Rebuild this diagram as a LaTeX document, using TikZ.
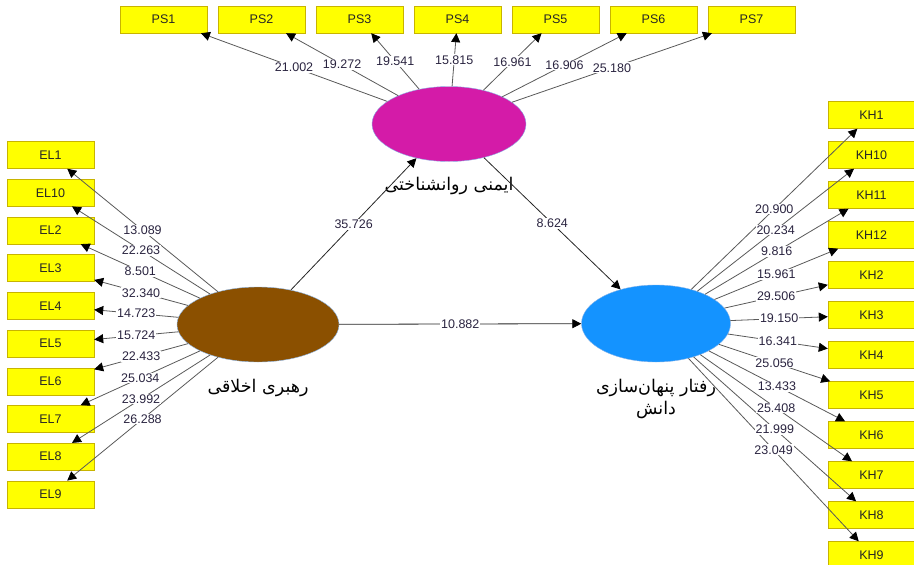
\documentclass[tikz,border=0pt]{standalone}
\usepackage{fontspec}
\setmainfont{Liberation Sans}
\newfontfamily\fafont[Script=Arabic]{DejaVu Sans}
\TeXXeTstate=1
\usepackage{xcolor}
\usetikzlibrary{arrows.meta, positioning, calc, shapes.geometric}
\definecolor{indfill}{HTML}{FFFF00}
\definecolor{indrim}{HTML}{C8B400}
\definecolor{safefill}{HTML}{D41BA8}
\definecolor{ethicfill}{HTML}{8B5000}
\definecolor{hidefill}{HTML}{1493FF}
\definecolor{lvrim}{HTML}{8AB4E8}
\definecolor{tvtext}{HTML}{2A2440}

\def\pslist{1/21.002, 2/19.272, 3/19.541, 4/15.815, 5/16.961, 6/16.906, 7/25.180}
\def\ellist{1/13.089, 10/22.263, 2/8.501, 3/32.340, 4/14.723, 5/15.724, 6/22.433, 7/25.034, 8/23.992, 9/26.288}
\def\khlist{1/20.900, 10/20.234, 11/9.816, 12/15.961, 2/29.506, 3/19.150, 4/16.341, 5/25.056, 6/13.433, 7/25.408, 8/21.999, 9/23.049}

\begin{document}
\begin{tikzpicture}[x=1pt, y=-1pt,
    box/.style={rectangle, draw=indrim, fill=indfill, text=black!85, minimum width=87pt,
        minimum height=27pt, inner sep=0pt, font=\fontsize{12.5}{14}\selectfont},
    lv/.style={ellipse, draw=lvrim, inner sep=0pt},
    load/.style={draw=black!65, line width=0.8pt, -{Triangle[length=9pt,width=9pt,color=black]}},
    inner/.style={draw=black!85, line width=0.8pt, -{Triangle[length=9pt,width=9pt,color=black]}},
    tv/.style={fill=white, inner sep=1pt, text=tvtext, font=\fontsize{12.5}{14}\selectfont},
    lvname/.style={font=\fafont\fontsize{17.5}{22}\selectfont, align=center, inner sep=0pt}]
    \useasboundingbox (0,0) rectangle (914,565);

    % latent variables
    \node[lv, fill=safefill, minimum width=154pt, minimum height=75pt] (safety) at (449,124) {};
    \node[lv, fill=ethicfill, minimum width=162pt, minimum height=75pt] (ethic) at (258,324.5) {};
    \node[lv, fill=hidefill, minimum width=149pt, minimum height=77pt] (hiding) at (656,323.5) {};

    \node[lvname, below=15pt of safety] {\beginR ایمنی روانشناختی\endR};
    \node[lvname, below=17pt of ethic] {\beginR رهبری اخلاقی\endR};
    \node[lvname, below=17pt of hiding] {\beginR رفتار پنهان^^^^200cسازی\endR\\\beginR دانش\endR};

    % indicators
    \foreach \n [count=\i] in {1,...,7}
        \node[box] (ps\n) at (163.5+98*\i-98, 19.5) {PS\n};
    \foreach \n [count=\i] in {1,10,2,3,4,5,6,7,8,9}
        \node[box] (el\n) at (50.5, 155+37.7*\i-37.7) {EL\n};
    \foreach \n [count=\i] in {1,10,11,12,2,3,4,5,6,7,8,9}
        \node[box] (kh\n) at (871.5, 115+40*\i-40) {KH\n};

    % loadings
    \foreach \n/\v in \pslist
        \draw[load] (safety) -- coordinate[midway] (mps\n) (ps\n);
    \foreach \n/\v in \ellist
        \draw[load] (ethic) -- coordinate[midway] (mel\n) (el\n);
    \foreach \n/\v in \khlist
        \draw[load] (hiding) -- coordinate[midway] (mkh\n) (kh\n);

    \foreach \n/\v in \pslist
        \node[tv] at (mps\n) {\v};
    \foreach \n/\v in \ellist
        \node[tv] at (mel\n) {\v};
    \foreach \n/\v in \khlist
        \node[tv] at (mkh\n) {\v};

    % paths
    \draw[inner] (ethic) -- node[tv] {35.726} (safety);
    \draw[inner] (safety) -- node[tv] {8.624} (hiding);
    \draw[inner] (ethic) -- node[tv] {10.882} (hiding);
\end{tikzpicture}
\end{document}
